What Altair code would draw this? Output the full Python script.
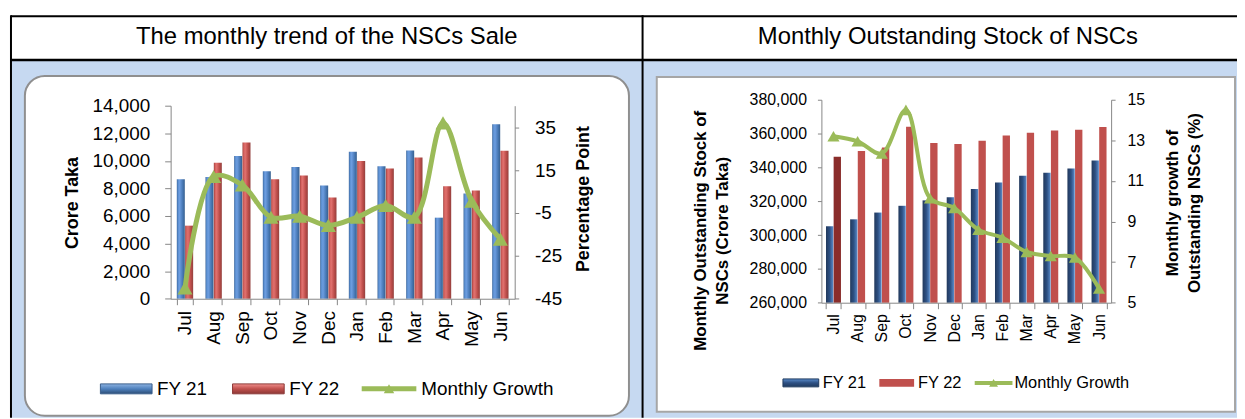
import altair as alt
import pandas as pd

# ---------------- data ----------------
months = ['Jul', 'Aug', 'Sep', 'Oct', 'Nov', 'Dec', 'Jan', 'Feb', 'Mar', 'Apr', 'May', 'Jun']
series_names = ['FY 21', 'FY 22']
growth_name = 'Monthly Growth'

sale_fy21 = [8670, 8830, 10350, 9240, 9550, 8210, 10660, 9600, 10760, 5880, 7640, 12650]
sale_fy22 = [5300, 9870, 11330, 8670, 8930, 7350, 9990, 9440, 10250, 8160, 7850, 10730]
sale_growth = [-40, 12, 8, -7, -6.5, -10.8, -7, -1.5, -7, 37, 0.5, -17.2]

stock_fy21 = [305200, 309300, 313300, 317300, 320500, 322300, 327300, 331100, 335100, 336900, 339400, 344100]
stock_fy22 = [346300, 349700, 351800, 364000, 354400, 353900, 355800, 358800, 360500, 361800, 362300, 363900]
stock_growth = [13.2, 12.95, 12.35, 14.5, 10.15, 9.67, 8.6, 8.2, 7.5, 7.3, 7.23, 5.7]

sale_ticks = [0, 2000, 4000, 6000, 8000, 10000, 12000, 14000]
sale_growth_ticks = [-45, -25, -5, 15, 35]
stock_ticks = [260000, 280000, 300000, 320000, 340000, 360000, 380000]
stock_growth_ticks = [5, 7, 9, 11, 13, 15]

left_heading = 'The monthly trend of the NSCs Sale'
right_heading = 'Monthly Outstanding Stock of NSCs'
left_ytitle = 'Crore Taka'
left_y2title = 'Percentage Point'
right_ytitle = ['Monthly Outstanding Stock  of', 'NSCs (Crore Taka)']
right_y2title = ['Monthly growth of', 'Outstanding NSCs (%)']

# ---------------- layout / styles ----------------
W, H = 1237, 411
FONT = 'Liberation Sans'
GREEN = '#9bbb59'
AX = '#868686'
BLUE_BG = '#c6d9f1'

one = pd.DataFrame({'k': [0]})


def rect(x0, x1, y0, y1, **kw):
    return alt.Chart(one).mark_rect(**kw).encode(
        x=alt.value(x0), x2=alt.value(x1), y=alt.value(y0), y2=alt.value(y1))


def hline(x0, x1, y, w=2, c='black'):
    return alt.Chart(one).mark_rule(color=c, strokeWidth=w).encode(
        x=alt.value(x0), x2=alt.value(x1), y=alt.value(y))


def vline(x, y0, y1, w=2, c='black'):
    return alt.Chart(one).mark_rule(color=c, strokeWidth=w).encode(
        x=alt.value(x), y=alt.value(y0), y2=alt.value(y1))


def label(txt, x, y, size, **kw):
    return alt.Chart(one).mark_text(text=txt, fontSize=size, font=FONT, color='black',
                                    baseline='middle', **kw).encode(
        x=alt.value(x), y=alt.value(y))


def hgrad(stops):
    return alt.LinearGradient(gradient='linear', x1=0, x2=1, y1=0, y2=0,
                              stops=[alt.GradientStop(offset=o, color=c) for o, c in stops])


def vgrad(stops):
    return alt.LinearGradient(gradient='linear', x1=0, x2=0, y1=0, y2=1,
                              stops=[alt.GradientStop(offset=o, color=c) for o, c in stops])


blue3d = hgrad([(0, '#3a6399'), (0.15, '#5b8fd0'), (0.35, '#6d9de0'), (0.7, '#4a7bb8'), (1, '#37608f')])
red3d = hgrad([(0, '#9b3b38'), (0.15, '#d3605d'), (0.35, '#e0716e'), (0.7, '#bd4d4a'), (1, '#93403d')])
blue_dark = hgrad([(0, '#22395c'), (0.5, '#2d5083'), (1, '#5a8ccb')])
blue_sw = vgrad([(0, '#8db3e2'), (0.5, '#4f81bd'), (1, '#2c4d75')])
red_sw = vgrad([(0, '#f08f8c'), (0.5, '#c0504d'), (1, '#8c3836')])
blue_sw2 = vgrad([(0, '#5a8ccb'), (0.5, '#2d5083'), (1, '#1f3a5f')])

# plot areas (chart coordinates)
L_X = [163.7, 510.0]
L_Y = [291.3, 97.0]
R_X = [818.7, 1110.3]
R_Y = [295.3, 91.0]
L_PAD = 0.43
R_PAD = 0.38
HYPHEN = "replace(datum.label, '\u2212', '-')"


def xscale(rng, pad):
    return alt.Scale(domain=months, range=rng, paddingInner=pad, paddingOuter=pad / 2)


def x_axis(ybot, size, lpad):
    return alt.Axis(orient='bottom', offset=ybot - H, labelAngle=270, tickBand='extent',
                    labelFontSize=size, labelFont=FONT, labelColor='black', labelPadding=lpad,
                    tickSize=6, labelOverlap=False, title=None, domainColor=AX, tickColor=AX,
                    grid=False, zindex=2)


def y_axis(orient, xpos, values, fmt, size, lpad, tick):
    off = -xpos if orient == 'left' else xpos - W
    return alt.Axis(orient=orient, offset=off, values=values, format=fmt, labelFontSize=size,
                    labelFont=FONT, labelColor='black', labelPadding=lpad, tickSize=tick,
                    labelOverlap=False, title=None, domainColor=AX, tickColor=AX, grid=False,
                    labelExpr=HYPHEN, zindex=2)


def bars(vals, name, xr, yr, ydom, pad, xaxis, yaxis, fill=None, fill_enc=None):
    df = pd.DataFrame({'month': months, 'value': vals, 'series': name})
    mk = alt.Chart(df).mark_bar(fill=fill) if fill is not None else alt.Chart(df).mark_bar()
    enc = dict(
        x=alt.X('month:N', sort=months, scale=xscale(xr, pad), axis=xaxis),
        xOffset=alt.XOffset('series:N', scale=alt.Scale(domain=series_names, paddingInner=0.04)),
        y=alt.Y('value:Q', scale=alt.Scale(domain=ydom, range=yr, zero=False, nice=False), axis=yaxis),
        y2=alt.datum(ydom[0]),
    )
    if fill_enc is not None:
        enc['fill'] = fill_enc
    return mk.encode(**enc)


def growth(vals, xr, yr, ydom, pad, yaxis, width, size):
    df = pd.DataFrame({'month': months, 'growth': vals})
    x = alt.X('month:N', sort=months, scale=xscale(xr, pad), axis=None)
    sc = alt.Scale(domain=ydom, range=yr, zero=False, nice=False)
    ln = alt.Chart(df).mark_line(color=GREEN, strokeWidth=width, interpolate='catmull-rom').encode(
        x=x, y=alt.Y('growth:Q', scale=sc, axis=yaxis))
    pt = alt.Chart(df).mark_point(shape='triangle-up', filled=True, size=size, color=GREEN,
                                  opacity=1).encode(
        x=x, y=alt.Y('growth:Q', scale=sc, axis=None))
    return [ln, pt]


layers = []
# background / frame
layers.append(rect(3, W, 51, H, fill=BLUE_BG))
layers.append(rect(17, 625, 67, 409, fill='white', stroke='#8f8f8f', strokeWidth=2, cornerRadius=20))
layers.append(rect(653, 1235, 68, 405, fill='white', stroke='#a6a6a6', strokeWidth=2))
layers.append(hline(3, W, 7, 2))
layers.append(hline(3, W, 51, 2.5))
layers.append(vline(3, 6, H, 2))
layers.append(vline(638.7, 6, H, 2))
layers.append(label(left_heading, 320.8, 28, 24, align='center'))
layers.append(label(right_heading, 946, 28, 24, align='center'))

# ---- left chart ----
layers.append(bars(sale_fy21, series_names[0], L_X, L_Y, [0, 14000], L_PAD,
                   x_axis(L_Y[0], 19, 6),
                   y_axis('left', L_X[0], sale_ticks, ',d', 19, 15, 6), fill=blue3d))
layers.append(bars(sale_fy22, series_names[1], L_X, L_Y, [0, 14000], L_PAD, None, None, fill=red3d))
layers += growth(sale_growth, L_X, L_Y, [-45, 45], L_PAD,
                 y_axis('right', L_X[1], sale_growth_ticks, 'd', 19, 16, 4), 5, 230)
layers.append(label(left_ytitle, 65, 195, 18, align='center', angle=270, fontWeight='bold'))
layers.append(label(left_y2title, 580, 191, 18, align='center', angle=270, fontWeight='bold'))

# left legend
LY = 382
layers.append(rect(93, 145, LY - 5, LY + 5, fill=blue_sw, stroke='#385d8a', strokeWidth=1))
layers.append(label(series_names[0], 150, LY, 19, align='left'))
layers.append(rect(226, 278, LY - 5, LY + 5, fill=red_sw, stroke='#8c3836', strokeWidth=1))
layers.append(label(series_names[1], 283, LY, 19, align='left'))
layers.append(hline(356, 411, LY, 5, GREEN))
layers.append(alt.Chart(one).mark_point(shape='triangle-up', filled=True, size=110, color=GREEN,
                                        opacity=1).encode(x=alt.value(383.5), y=alt.value(LY)))
layers.append(label(growth_name, 416, LY, 19, align='left'))

# ---- right chart ----
layers.append(bars(stock_fy21, series_names[0], R_X, R_Y, [260000, 380000], R_PAD,
                   x_axis(R_Y[0], 16, 5),
                   y_axis('left', R_X[0], stock_ticks, ',d', 16, 11, 4), fill=blue_dark))
layers.append(bars(stock_fy22, series_names[1], R_X, R_Y, [260000, 380000], R_PAD, None, None,
                   fill_enc=alt.condition("datum.month == 'Jul'", alt.value('#8a2d2b'),
                                          alt.value('#c0504d'))))
layers += growth(stock_growth, R_X, R_Y, [5, 15], R_PAD,
                 y_axis('right', R_X[1], stock_growth_ticks, 'd', 16, 12, 4), 4, 150)
layers.append(label(right_ytitle, 698, 223, 17, align='center', angle=270, fontWeight='bold',
                    lineHeight=22))
layers.append(label(right_y2title, 1173, 195, 17, align='center', angle=270, fontWeight='bold',
                    lineHeight=22))

# right legend
RY = 376
layers.append(rect(780, 816, RY - 4, RY + 4, fill=blue_sw2, stroke='#1f3a5f', strokeWidth=1))
layers.append(label(series_names[0], 820, RY, 16.5, align='left'))
layers.append(rect(877, 912, RY - 4, RY + 4, fill='#c0504d'))
layers.append(label(series_names[1], 916, RY, 16.5, align='left'))
layers.append(hline(973, 1011, RY, 4, GREEN))
layers.append(alt.Chart(one).mark_point(shape='triangle-up', filled=True, size=80, color=GREEN,
                                        opacity=1).encode(x=alt.value(992), y=alt.value(RY)))
layers.append(label(growth_name, 1013, RY, 16.5, align='left'))

chart = alt.layer(*layers).resolve_scale(
    x='independent', y='independent', xOffset='independent', fill='independent'
).properties(
    width=W, height=H, padding=0, autosize=alt.AutoSizeParams(type='none')
).configure(font=FONT).configure_view(strokeOpacity=0)

chart.save("out.html", embed_options={"renderer": "svg", "actions": False})
